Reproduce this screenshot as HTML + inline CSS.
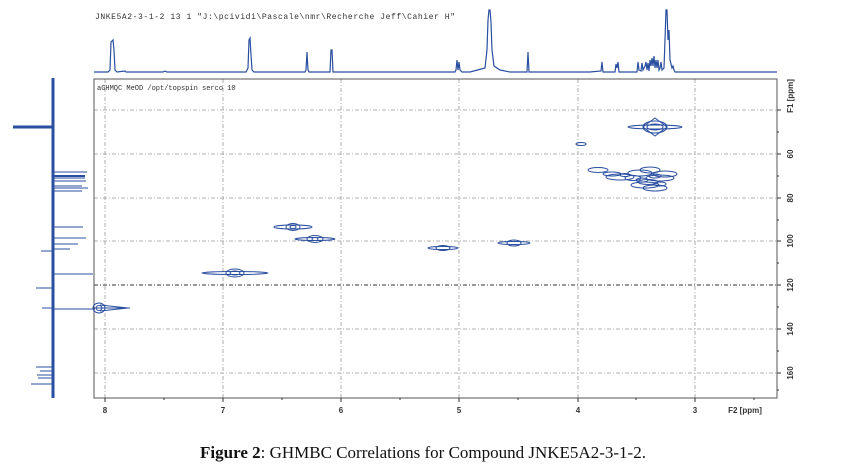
<!DOCTYPE html>
<html><head><meta charset="utf-8"><style>
html,body{margin:0;padding:0;background:#fff;}
svg{display:block}
</style></head><body>
<svg width="846" height="470" viewBox="0 0 846 470" xmlns="http://www.w3.org/2000/svg">
<rect width="846" height="470" fill="#fff"/>
<text x="95" y="19" font-family="Liberation Mono, monospace" font-size="8" textLength="360" fill="#333">JNKE5A2-3-1-2  13  1  "J:\pcividi\Pascale\nmr\Recherche Jeff\Cahier H"</text>
<!-- top 1D spectrum -->
<polyline fill="none" stroke="#2a4fa0" stroke-width="1.2" points="94,72 108,72 110,70 111,42 113,40 114,50 115,70 117,72 125,71 126,72 163,72 165,71 167,72 246,72 248,68 249,40 250,38 251,55 252,70 254,72 305,72 306,70 307,52 308,70 309,72 330,72 331,50 332,50 333,72 455,72 456,70 457,60 458,70 459,62 460,70 462,72 470,72 485,68 487,50 488,20 489,10 490,10 491,22 492,50 494,66 500,70 510,72 527,72 528,52 529,72 590,72 601,71 602,62 603,72 615,72 616,64 617,68 618,62 619,72 637,72 638,62 639,70 641,71 642,63 643,70 645,66 646,62 647,70 648,63 649,71 650,60 651,66 652,58 653,66 654,56 655,68 656,60 657,68 658,60 659,70 660,68 661,62 662,70 664,68 665,40 666,10 667,10 668,40 669,30 670,60 671,64 672,68 673,66 674,70 675,72 777,72"/>
<!-- left 1D spectrum -->
<line x1="53" y1="78" x2="53" y2="398" stroke="#2a4fa0" stroke-width="3"/>
<g stroke="#2a4fa0" stroke-width="1">
<line x1="13" y1="127" x2="53" y2="127" stroke-width="3"/>
<line x1="53" y1="172" x2="87" y2="172"/><line x1="53" y1="176" x2="85" y2="176" stroke-width="2"/>
<line x1="53" y1="178" x2="85" y2="178"/><line x1="53" y1="181" x2="86" y2="181"/>
<line x1="53" y1="186" x2="82" y2="186"/><line x1="53" y1="188" x2="88" y2="188"/><line x1="53" y1="191" x2="82" y2="191"/>
<line x1="53" y1="227" x2="83" y2="227"/><line x1="53" y1="238" x2="86" y2="238"/>
<line x1="53" y1="244" x2="78" y2="244"/><line x1="53" y1="249" x2="70" y2="249"/>
<line x1="53" y1="274" x2="93" y2="274"/><line x1="53" y1="309" x2="95" y2="309"/>
<line x1="41" y1="251" x2="53" y2="251"/><line x1="36" y1="288" x2="53" y2="288"/><line x1="42" y1="308" x2="53" y2="308"/>
<line x1="36" y1="367" x2="53" y2="367"/><line x1="40" y1="371" x2="53" y2="371"/><line x1="37" y1="375" x2="53" y2="375"/><line x1="38" y1="378" x2="53" y2="378"/><line x1="31" y1="384" x2="53" y2="384"/>
</g>
<!-- grid -->
<g stroke="#999" stroke-width="0.8" stroke-dasharray="4,2,1,2">
<line x1="105" y1="79" x2="105" y2="398"/><line x1="223" y1="79" x2="223" y2="398"/>
<line x1="341" y1="79" x2="341" y2="398"/><line x1="459" y1="79" x2="459" y2="398"/>
<line x1="578" y1="79" x2="578" y2="398"/><line x1="695" y1="79" x2="695" y2="398"/>
<line x1="94" y1="110" x2="777" y2="110"/><line x1="94" y1="154" x2="777" y2="154"/>
<line x1="94" y1="198" x2="777" y2="198"/><line x1="94" y1="241" x2="777" y2="241"/>
<line x1="94" y1="329" x2="777" y2="329"/><line x1="94" y1="373" x2="777" y2="373"/>
</g>
<line x1="94" y1="285" x2="777" y2="285" stroke="#333" stroke-width="1" stroke-dasharray="4,2,1,2"/>
<rect x="94" y="79" width="683" height="319" fill="none" stroke="#555" stroke-width="1"/>
<text x="97" y="90" font-family="Liberation Mono, monospace" font-size="7" fill="#333">aGHMQC MeOD /opt/topspin serco 10</text>
<!-- ticks -->
<g stroke="#333" stroke-width="1">
<line x1="105" y1="398" x2="105" y2="402"/><line x1="223" y1="398" x2="223" y2="402"/><line x1="341" y1="398" x2="341" y2="402"/>
<line x1="459" y1="398" x2="459" y2="402"/><line x1="578" y1="398" x2="578" y2="402"/><line x1="695" y1="398" x2="695" y2="402"/>
<line x1="164" y1="398" x2="164" y2="400"/><line x1="282" y1="398" x2="282" y2="400"/><line x1="400" y1="398" x2="400" y2="400"/>
<line x1="518" y1="398" x2="518" y2="400"/><line x1="636" y1="398" x2="636" y2="400"/><line x1="754" y1="398" x2="754" y2="400"/>
<line x1="777" y1="110" x2="781" y2="110"/><line x1="777" y1="154" x2="781" y2="154"/><line x1="777" y1="198" x2="781" y2="198"/>
<line x1="777" y1="241" x2="781" y2="241"/><line x1="777" y1="285" x2="781" y2="285"/><line x1="777" y1="329" x2="781" y2="329"/><line x1="777" y1="373" x2="781" y2="373"/>
<line x1="777" y1="132" x2="779" y2="132"/><line x1="777" y1="176" x2="779" y2="176"/><line x1="777" y1="220" x2="779" y2="220"/>
<line x1="777" y1="263" x2="779" y2="263"/><line x1="777" y1="307" x2="779" y2="307"/><line x1="777" y1="351" x2="779" y2="351"/><line x1="777" y1="390" x2="779" y2="390"/>
</g>
<g font-family="Liberation Sans, sans-serif" font-size="8" font-weight="bold" fill="#333" text-anchor="middle">
<text x="105" y="413">8</text><text x="223" y="413">7</text><text x="341" y="413">6</text>
<text x="459" y="413">5</text><text x="578" y="413">4</text><text x="695" y="413">3</text>
<text x="745" y="413">F2 [ppm]</text>
<text transform="translate(793,154) rotate(-90)">60</text>
<text transform="translate(793,198) rotate(-90)">80</text>
<text transform="translate(793,241) rotate(-90)">100</text>
<text transform="translate(793,285) rotate(-90)">120</text>
<text transform="translate(793,329) rotate(-90)">140</text>
<text transform="translate(793,373) rotate(-90)">160</text>
<text transform="translate(793,96) rotate(-90)">F1 [ppm]</text>
</g>
<!-- cross peaks -->
<g fill="none" stroke="#2a4fa0" stroke-width="1">
<ellipse cx="655" cy="127" rx="27" ry="2"/><ellipse cx="655" cy="127" rx="12" ry="6"/><ellipse cx="655" cy="127" rx="8" ry="3"/>
<path d="M643 127 L655 118 L667 127 L655 136 Z"/>
<ellipse cx="581" cy="144" rx="5" ry="1.5"/>
<ellipse cx="598" cy="170" rx="10" ry="2.5"/><ellipse cx="620" cy="177" rx="14" ry="3"/><ellipse cx="640" cy="173" rx="12" ry="3"/>
<ellipse cx="650" cy="170" rx="10" ry="3"/><ellipse cx="660" cy="178" rx="14" ry="3"/><ellipse cx="665" cy="174" rx="12" ry="3"/>
<ellipse cx="645" cy="185" rx="14" ry="3"/><ellipse cx="655" cy="188" rx="12" ry="3"/><ellipse cx="648" cy="182" rx="10" ry="2.5"/>
<ellipse cx="633" cy="178" rx="8" ry="2.5"/><ellipse cx="612" cy="174" rx="9" ry="2"/>
<ellipse cx="655" cy="176" rx="6" ry="2"/><ellipse cx="642" cy="180" rx="6" ry="2"/><ellipse cx="660" cy="184" rx="6" ry="2"/><ellipse cx="625" cy="175" rx="5" ry="1.5"/>
<ellipse cx="293" cy="227" rx="19" ry="2"/><ellipse cx="293" cy="227" rx="7" ry="3.5"/><ellipse cx="293" cy="227" rx="3" ry="1.5"/>
<ellipse cx="315" cy="239" rx="20" ry="1.5"/><ellipse cx="315" cy="239" rx="8" ry="3.5"/><ellipse cx="315" cy="239" rx="3" ry="1.5"/>
<ellipse cx="443" cy="248" rx="15" ry="1.5"/><ellipse cx="443" cy="248" rx="7" ry="2.5"/>
<ellipse cx="514" cy="243" rx="16" ry="1.5"/><ellipse cx="514" cy="243" rx="7" ry="3"/>
<ellipse cx="235" cy="273" rx="33" ry="1.5"/><ellipse cx="235" cy="273" rx="9" ry="4"/><ellipse cx="235" cy="273" rx="5" ry="2"/>
<ellipse cx="99" cy="308" rx="6" ry="5"/><ellipse cx="99" cy="308" rx="3" ry="2.5"/>
<path d="M94 308 L130 308 M100 305 L128 308 L100 311"/>
</g>
<text x="423" y="458" font-family="Liberation Serif, serif" font-size="17" fill="#111" text-anchor="middle"><tspan font-weight="bold">Figure 2</tspan>: GHMBC Correlations for Compound JNKE5A2-3-1-2.</text>
</svg>
</body></html>
